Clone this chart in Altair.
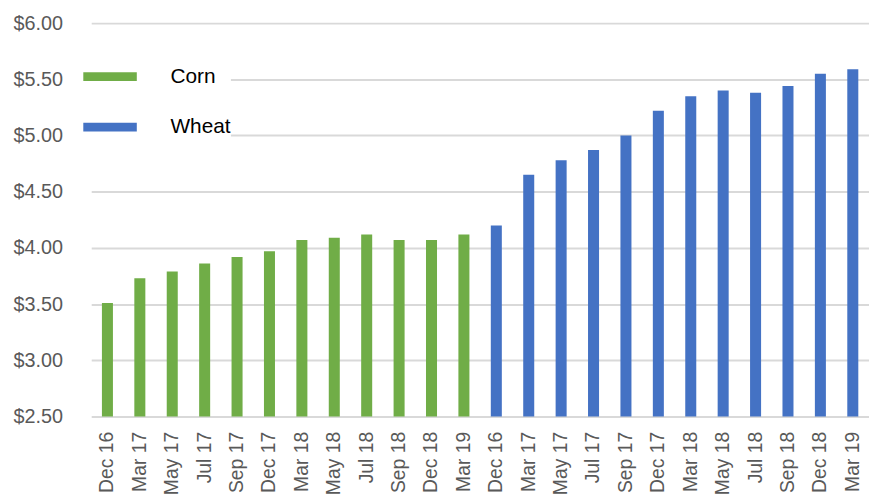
import altair as alt
import pandas as pd

months = ["Dec 16", "Mar 17", "May 17", "Jul 17", "Sep 17", "Dec 17",
          "Mar 18", "May 18", "Jul 18", "Sep 18", "Dec 18", "Mar 19"]
corn = [3.51, 3.73, 3.79, 3.86, 3.92, 3.97, 4.07, 4.09, 4.12, 4.07, 4.07, 4.12]
wheat = [4.20, 4.65, 4.78, 4.87, 5.00, 5.22, 5.35, 5.40, 5.38, 5.44, 5.55, 5.59]
series = ["Corn", "Wheat"]
colors = ["#70AD47", "#4472C4"]

rows = []
for s, vals in zip(series, [corn, wheat]):
    for m, v in zip(months, vals):
        rows.append({"key": f"{s[0]} {m}", "month": m, "series": s, "price": v})
df = pd.DataFrame(rows)
order = list(df["key"])

font = "Liberation Sans"

bars = alt.Chart(df).mark_bar().encode(
    x=alt.X("key:N", sort=order, title=None,
            scale=alt.Scale(paddingInner=0.66, paddingOuter=0.33),
            axis=alt.Axis(labelAngle=-90, labelExpr="slice(datum.label, 2)",
                          labelFont=font, labelFontSize=19.5, labelColor="#595959",
                          labelPadding=15, ticks=False, domain=False, grid=False)),
    y=alt.Y("price:Q", title=None,
            scale=alt.Scale(domain=[2.5, 6.0], zero=False, nice=False),
            axis=alt.Axis(values=[2.5, 3.0, 3.5, 4.0, 4.5, 5.0, 5.5, 6.0], format="$.2f",
                          labelFont=font, labelFontSize=20, labelColor="#595959",
                          labelPadding=29, ticks=False, domain=False,
                          gridColor="#d9d9d9", gridWidth=2)),
    y2=alt.datum(2.5),
    color=alt.Color("series:N", scale=alt.Scale(domain=series, range=colors),
                    legend=alt.Legend(title=None, orient="none", legendX=-8, legendY=27,
                                      symbolType="M-1,-0.1667H1V0.1667H-1Z",
                                      symbolSize=2916, symbolStrokeWidth=0,
                                      labelFont=font, labelFontSize=21, labelColor="#000000",
                                      labelOffset=34, rowPadding=14, padding=0,
                                      fillColor="white")),
)

chart = bars.properties(
    width=785, height=397,
    autosize=alt.AutoSizeParams(type="none"),
    padding={"left": 84, "top": 13, "right": 0, "bottom": 77},
).configure_view(stroke=None)

chart.save("out.html", embed_options={"renderer": "svg", "actions": False})
